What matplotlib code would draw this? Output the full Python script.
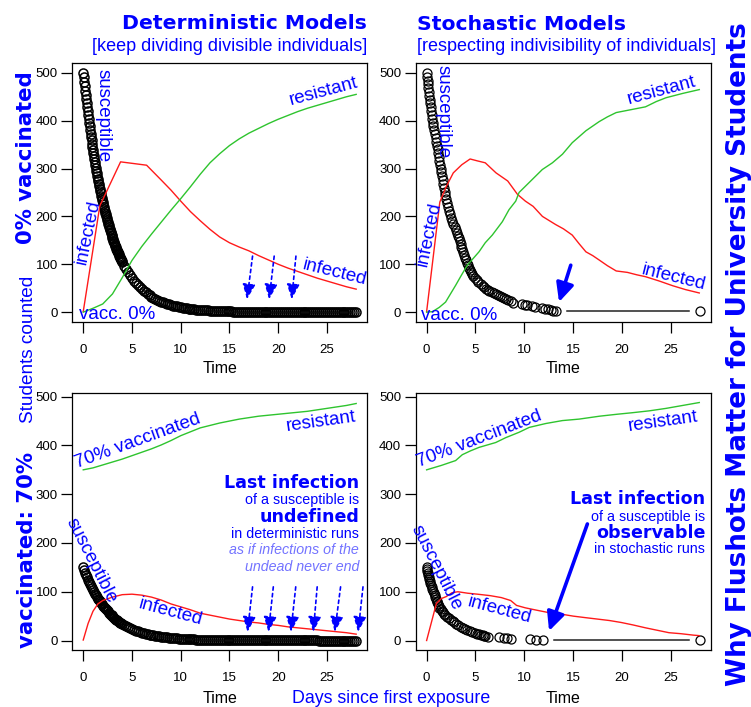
import numpy as np
import matplotlib.pyplot as plt

plt.rcParams['font.family'] = ['Liberation Sans', 'DejaVu Sans']

BLUE = '#0000ff'
LIGHT = '#7373ff'
RED = '#ff1a1a'
GREEN = '#2ec42e'

# ---------------- deterministic, 0% vaccinated ----------------
det_t0 = np.concatenate([np.arange(0, 4.001, 0.05), np.arange(4.2, 28.001, 0.2)])
det_S0 = [
    500.0, 490.3, 480.9, 471.6, 462.5, 453.6, 444.8, 436.2, 427.8, 419.6,
    411.5, 403.5, 395.7, 388.1, 380.6, 373.2, 366.0, 359.0, 352.1, 345.3,
    338.6, 332.0, 325.6, 319.3, 313.2, 307.1, 301.2, 295.4, 289.7, 284.1,
    278.6, 273.2, 268.0, 262.8, 257.7, 252.8, 247.9, 243.1, 238.4, 233.8,
    229.3, 224.9, 220.5, 216.3, 212.1, 208.0, 204.0, 200.0, 196.2, 192.4,
    188.7, 185.0, 181.4, 177.9, 174.5, 171.1, 167.8, 164.6, 161.4, 158.3,
    155.2, 152.2, 149.3, 146.4, 143.6, 140.8, 138.1, 135.4, 132.8, 130.2,
    127.7, 125.3, 122.8, 120.5, 118.1, 115.9, 113.6, 111.4, 109.3, 107.2,
    105.1,
    97.2, 89.9, 83.1, 76.9, 71.1,
    65.8, 60.9, 56.3, 52.1, 48.2,
    44.5, 41.2, 38.1, 35.3, 32.6,
    30.2, 27.9, 25.8, 23.9, 22.1,
    20.4, 18.9, 17.5, 16.2, 14.9,
    13.8, 12.8, 11.8, 10.9, 10.1,
    9.4, 8.7, 8.0, 7.4, 6.9,
    6.3, 5.9, 5.4, 5.0, 4.6,
    4.3, 4.0, 3.7, 3.4, 3.1,
    2.9, 2.7, 2.5, 2.3, 2.1,
    2.0, 1.8, 1.7, 1.6, 1.4,
    1.3, 1.2, 1.1, 1.0, 1.0,
    0.9, 0.8, 0.8, 0.7, 0.7,
    0.6, 0.6, 0.5, 0.5, 0.4,
    0.4, 0.4, 0.4, 0.3, 0.3,
    0.3, 0.3, 0.3, 0.2, 0.2,
    0.2, 0.2, 0.2, 0.2, 0.2,
    0.1, 0.1, 0.1, 0.1, 0.1,
    0.1, 0.1, 0.1, 0.1, 0.1,
    0.1, 0.1, 0.1, 0.1, 0.1,
    0.1, 0.0, 0.0, 0.0, 0.0,
    0.0, 0.0, 0.0, 0.0, 0.0,
    0.0, 0.0, 0.0, 0.0, 0.0,
    0.0, 0.0, 0.0, 0.0, 0.0,
]
det_I0_t = [0, 1.7, 3.83, 6.5, 8, 9, 10, 11, 12, 13, 14, 15, 16, 17, 18, 19, 20,
            21, 22, 23, 24, 25, 26, 27, 28]
det_I0 = [1, 222, 314, 307, 276, 255, 232, 210, 191, 173, 157, 145, 136, 128, 118,
          109, 100, 92, 85, 78, 71, 65, 59, 53, 48]
det_R0_t = list(range(29))
det_R0 = [0, 8, 17, 38, 72, 108, 137, 163, 188, 213, 237, 262, 288, 312, 331, 348,
          362, 374, 384, 394, 403, 411, 419, 426, 432, 438, 444, 450, 455]

# ---------------- deterministic, 70% vaccinated ----------------
det_t70 = np.concatenate([np.arange(0, 4.001, 0.1), np.arange(4.2, 28.001, 0.2)])
det_S70 = [
    150.0, 144.6, 139.3, 134.3, 129.4, 124.7, 120.2, 115.8, 111.6, 107.5,
    103.6, 99.9, 96.2, 92.7, 89.4, 86.1, 83.0, 80.0, 77.1, 74.3,
    71.6, 69.0, 66.5, 64.1, 61.7, 59.5, 57.3, 55.2, 53.2, 51.3,
    49.4, 47.6, 45.9, 44.2, 42.6, 41.1, 39.6, 38.1, 36.7, 35.4,
    34.1,
    31.7, 29.4, 27.3, 25.4, 23.6,
    21.9, 20.3, 18.9, 17.5, 16.3,
    15.1, 14.0, 13.0, 12.1, 11.2,
    10.4, 9.7, 9.0, 8.4, 7.8,
    7.2, 6.7, 6.2, 5.8, 5.4,
    5.0, 4.6, 4.3, 4.0, 3.7,
    3.4, 3.2, 3.0, 2.8, 2.6,
    2.4, 2.2, 2.0, 1.9, 1.8,
    1.6, 1.5, 1.4, 1.3, 1.2,
    1.1, 1.0, 1.0, 0.9, 0.8,
    0.8, 0.7, 0.7, 0.6, 0.6,
    0.5, 0.5, 0.5, 0.4, 0.4,
    0.4, 0.3, 0.3, 0.3, 0.3,
    0.3, 0.2, 0.2, 0.2, 0.2,
    0.2, 0.2, 0.2, 0.2, 0.1,
    0.1, 0.1, 0.1, 0.1, 0.1,
    0.1, 0.1, 0.1, 0.1, 0.1,
    0.1, 0.1, 0.1, 0.1, 0.1,
    0.1, 0.1, 0.1, 0.1, 0.1,
    0.1, 0.1, 0.1, 0.1, 0.1,
    0.0, 0.0, 0.0, 0.0, 0.0,
    0.0, 0.0, 0.0, 0.0, 0.0,
    0.0, 0.0, 0.0, 0.0, 0.0,
    0.0, 0.0, 0.0, 0.0, 0.0,
]
det_I70_t = [0, 0.5, 1, 1.5, 2] + list(range(3, 29))
det_I70 = [1, 35, 60, 75, 82, 89, 94, 95, 93, 89, 83, 75, 69, 63, 56, 52, 48, 44, 41,
           38, 36, 33, 31, 28, 26, 24, 22, 20, 18, 16, 13]
det_R70_t = list(range(29))
det_R70 = [350, 354, 360, 366, 372, 379, 386, 393, 401, 410, 420, 428, 436, 441, 446,
           450, 454, 457, 460, 462, 464, 466, 468, 470, 473, 476, 479, 482, 486]

# ---------------- stochastic, 0% vaccinated ----------------
sto_S0_t = [0.00, 0.05, 0.09, 0.14, 0.18, 0.23, 0.28, 0.32, 0.37, 0.41, 0.46, 0.51, 0.55,
            0.62, 0.70, 0.77, 0.85, 0.92, 1.00, 1.07,
            1.13, 1.19, 1.25, 1.30, 1.36, 1.42,
            1.48, 1.56, 1.63, 1.70, 1.77, 1.84, 1.91,
            2.00, 2.10, 2.20, 2.30, 2.40,
            2.52, 2.64, 2.75, 2.87, 2.99, 3.10,
            3.20, 3.29, 3.38, 3.47, 3.56, 3.64,
            3.72, 3.83, 3.94, 4.05, 4.14,
            4.25, 4.35, 4.46, 4.57, 4.65,
            4.79, 4.95, 5.11, 5.27,
            5.55, 5.73, 5.92, 6.10, 6.28, 6.40,
            6.70, 6.85, 7.05, 7.30,
            7.50, 7.70, 7.90, 8.10, 8.35, 8.60,
            8.85, 9.75, 10.05, 10.25, 10.8, 11.1, 11.85, 12.1, 12.4, 12.7, 12.95, 13.2,
            28.0]
sto_S0 = [500, 492, 484, 476, 468, 460, 452, 444, 436, 428, 420, 412, 404,
          396, 388, 380, 372, 364, 356, 348,
          340, 332, 324, 316, 308, 300,
          292, 284, 276, 268, 260, 252, 244,
          236, 228, 220, 212, 204,
          196, 190, 184, 178, 172, 166,
          160, 154, 148, 142, 136, 131,
          126, 120, 114, 108, 103,
          98, 93, 88, 83, 79,
          75, 71, 67, 63,
          58, 55, 52, 49, 46, 44,
          41, 39, 37, 35,
          33, 31, 29, 27, 25, 23,
          20, 17, 15, 14, 12, 10, 8, 7, 6, 4, 3, 2,
          2]
sto_I0_t = [0, 1.35, 2.0, 2.73, 3.6, 4.45, 5.2, 6.0, 7.1, 8.3, 9.3, 10.1, 10.9, 11.85,
            13.2, 14.0, 14.9, 15.6, 16.3, 17.0, 17.65, 18.5, 19.4, 20.55, 21.5, 22.4,
            23.8, 25.2, 26.5, 27.9]
sto_I0 = [1, 230, 262, 291, 308, 320, 316, 312, 291, 274, 246, 232, 221, 200, 183, 174,
          161, 143, 126, 118, 109, 97, 86, 83, 78, 74, 65, 55, 47, 40]
sto_R0_t = [0, 0.6, 1.3, 1.94, 2.97, 3.5, 4.16, 5.36, 6.0, 6.72, 7.75, 8.43, 9.12, 9.46,
            10.8, 11.84, 12.87, 13.9, 14.9, 16.3, 17.65, 18.5, 19.4, 20.9, 22.4, 23.5,
            24.5, 26.2, 27.9]
sto_R0 = [0, 1, 10, 21, 56, 75, 98, 126, 145, 161, 189, 214, 232, 250, 277, 298, 312,
          330, 354, 379, 398, 408, 417, 423, 429, 440, 448, 457, 465]

# ---------------- stochastic, 70% vaccinated ----------------
sto_S70_t = [0.00, 0.04, 0.08, 0.13, 0.17, 0.21, 0.26, 0.32, 0.39, 0.46, 0.53, 0.60,
             0.67, 0.74, 0.81, 0.88, 0.95, 1.02, 1.09, 1.16, 1.24, 1.30, 1.42, 1.55,
             1.68, 1.80, 1.92, 2.05, 2.26, 2.45, 2.65, 2.80, 3.05, 3.25, 3.50, 3.72,
             3.90, 4.15, 4.40, 4.65, 4.95, 5.20, 5.35, 5.55, 5.75, 5.85, 6.00, 6.25,
             7.40, 7.90, 8.25, 8.60, 10.55, 11.20, 11.95, 28.0]
sto_S70 = [150, 146, 142, 138, 134, 130, 126, 122, 118, 114, 110, 106, 102, 98, 94, 90,
           86, 82, 78, 74, 70, 67, 64, 61, 58, 55, 52, 49, 46, 43, 40, 37, 34, 31, 28,
           26, 24, 22, 20, 18, 16, 14, 13, 12, 11, 10, 9, 8, 7, 6, 5, 4, 3, 2, 1, 1]
sto_I70_t = [0, 0.5, 1.0, 1.5, 2.0, 2.6, 3.2, 4.2, 5.2, 6.5, 7.65, 8.6, 9.2, 10.1, 11.3,
             12.55, 13.8, 15.0, 16.2, 17.45, 18.7, 19.9, 21.1, 22.4, 23.6, 24.8, 26.0,
             27.3, 27.9]
sto_I70 = [0, 38, 76, 86, 90, 98, 100, 97, 95, 92, 88, 82, 72, 67, 62, 57, 54, 50, 47,
           44, 41, 37, 32, 26, 21, 16, 14, 11, 10]
sto_R70_t = [0, 1.5, 2.97, 3.65, 4.5, 5.36, 7.07, 8.1, 9.46, 10.5, 12.2, 13.9, 15.6,
             17.7, 19.5, 21.0, 22.8, 24.5, 26.2, 27.9]
sto_R70 = [350, 359, 369, 381, 389, 396, 406, 416, 427, 437, 445, 451, 454, 460, 464,
           467, 471, 476, 482, 488]

x_ticks = [0, 5, 10, 15, 20, 25]
y_ticks = [0, 100, 200, 300, 400, 500]

fig = plt.figure(figsize=(7.51, 7.07), dpi=100)
ax_tl = fig.add_axes([0.0963, 0.5450, 0.3925, 0.3655])
ax_tr = fig.add_axes([0.5535, 0.5450, 0.3935, 0.3655])
ax_bl = fig.add_axes([0.0963, 0.0806, 0.3925, 0.3635])
ax_br = fig.add_axes([0.5535, 0.0806, 0.3935, 0.3635])


def setup(ax, ylim, time_y):
    ax.set_xlim(-1.12, 29.12)
    ax.set_ylim(*ylim)
    ax.set_autoscale_on(False)
    ax.set_xticks(x_ticks)
    ax.set_yticks(y_ticks)
    ax.tick_params(axis='x', direction='out', length=8, width=0.9, labelsize=9.5, pad=8)
    ax.tick_params(axis='y', direction='out', length=8, width=0.9, labelsize=9.5, pad=2.5)
    for s in ax.spines.values():
        s.set_linewidth(0.9)
    ax.text(0.5, time_y, 'Time', transform=ax.transAxes, ha='center', va='baseline',
            fontsize=11.5)


def gap_lines(ax, x, y, gap=11):
    # R type="b": segments between points, kept clear of the circles
    pts = ax.transData.transform(np.column_stack([x, y]))
    inv = ax.transData.inverted()
    for p1, p2 in zip(pts[:-1], pts[1:]):
        d = np.hypot(*(p2 - p1))
        if d > 2 * gap:
            u = (p2 - p1) / d
            a, b = inv.transform([p1 + u * gap, p2 - u * gap])
            ax.plot([a[0], b[0]], [a[1], b[1]], color='#222222', lw=1.1)


def draw(ax, st, sv, it, iv, rt, rv, mew=0.9):
    ax.plot(st, sv, 'o', ms=6.5, mfc='none', mec='black', mew=mew, zorder=2)
    gap_lines(ax, st, sv)
    ax.plot(it, iv, color=RED, lw=1.0, zorder=3)
    ax.plot(rt, rv, color=GREEN, lw=1.0, zorder=3)


def label(ax, x, y, s, rot=0, size=13.5, **kw):
    ax.text(x, y, s, rotation=rot, color=BLUE, fontsize=size, ha=kw.pop('ha', 'center'),
            va=kw.pop('va', 'center'), **kw)


setup(ax_tl, (-20, 520), -0.1997)
setup(ax_tr, (-20, 520), -0.1997)
setup(ax_bl, (-19.5, 507.5), -0.2074)
setup(ax_br, (-19.5, 507.5), -0.2074)

draw(ax_tl, det_t0, det_S0, det_I0_t, det_I0, det_R0_t, det_R0, mew=1.1)
draw(ax_tr, sto_S0_t, sto_S0, sto_I0_t, sto_I0, sto_R0_t, sto_R0)
draw(ax_bl, det_t70, det_S70, det_I70_t, det_I70, det_R70_t, det_R70, mew=1.1)
draw(ax_br, sto_S70_t, sto_S70, sto_I70_t, sto_I70, sto_R70_t, sto_R70)

# ---- curve labels, top row ----
label(ax_tl, 2.03, 410, 'susceptible', rot=-90)
label(ax_tr, 1.68, 419, 'susceptible', rot=-90)
label(ax_tl, 0.49, 167, 'infected', rot=78)
label(ax_tr, 0.24, 164, 'infected', rot=78)
label(ax_tl, 24.7, 462, 'resistant', rot=15)
label(ax_tr, 24.06, 463, 'resistant', rot=15)
label(ax_tl, 25.77, 82, 'infected', rot=-14)
label(ax_tr, 25.26, 72, 'infected', rot=-14)
label(ax_tl, -0.45, -15, 'vacc. 0%', ha='left', va='baseline')
label(ax_tr, -0.61, -17.5, 'vacc. 0%', ha='left', va='baseline')

# ---- curve labels, bottom row ----
label(ax_bl, 0.8, 164, 'susceptible', rot=-63)
label(ax_br, 0.95, 150, 'susceptible', rot=-63)
label(ax_bl, 5.63, 409, '70% vaccinated', rot=20)
label(ax_br, 5.38, 414, '70% vaccinated', rot=21)
label(ax_bl, 24.4, 449, 'resistant', rot=8)
label(ax_br, 24.16, 449, 'resistant', rot=8)
label(ax_bl, 8.97, 59, 'infected', rot=-15)
label(ax_br, 7.45, 63, 'infected', rot=-15)

# ---- explanatory blocks ----
bold = dict(family='DejaVu Sans', fontweight='bold', fontsize=12.6)
ax_bl.text(28.3, 324, 'Last infection', color=BLUE, ha='right', va='center', **bold)
ax_bl.text(28.3, 288, 'of a susceptible is', color=BLUE, ha='right', va='center', fontsize=10.3)
ax_bl.text(28.3, 254, 'undefined', color=BLUE, ha='right', va='center', **bold)
ax_bl.text(28.3, 219, 'in deterministic runs', color=BLUE, ha='right', va='center', fontsize=10.3)
ax_bl.text(28.3, 185, 'as if infections of the', color=LIGHT, ha='right', va='center',
           fontsize=10.3, style='italic')
ax_bl.text(28.3, 151, 'undead never end', color=LIGHT, ha='right', va='center',
           fontsize=10.3, style='italic')

ax_br.text(28.5, 290, 'Last infection', color=BLUE, ha='right', va='center', **bold)
ax_br.text(28.5, 254, 'of a susceptible is', color=BLUE, ha='right', va='center', fontsize=10.3)
ax_br.text(28.5, 221, 'observable', color=BLUE, ha='right', va='center', **bold)
ax_br.text(28.5, 187, 'in stochastic runs', color=BLUE, ha='right', va='center', fontsize=10.3)

# ---- arrows ----
dotted = dict(arrowstyle='-|>,head_length=0.7,head_width=0.3', color=BLUE, lw=1.2,
              linestyle=(0, (2, 2)), shrinkA=0, shrinkB=0, mutation_scale=13)
solid = dict(arrowstyle='-|>,head_length=0.8,head_width=0.38', color=BLUE, lw=2.6,
             shrinkA=0, shrinkB=0, mutation_scale=14)

tl_arrow_top = [17.37, 19.59, 21.82]
tl_arrow_tip = [16.8, 19.07, 21.38]
for xt, xb in zip(tl_arrow_top, tl_arrow_tip):
    ax_tl.annotate('', xy=(xb, 27), xytext=(xt, 117), arrowprops=dotted)

bl_arrow_top = [17.37, 19.5, 21.8, 24.0, 26.4, 28.7]
bl_arrow_tip = [16.85, 19.0, 21.3, 23.6, 25.8, 28.2]
for xt, xb in zip(bl_arrow_top, bl_arrow_tip):
    ax_bl.annotate('', xy=(xb, 18), xytext=(xt, 110), arrowprops=dotted)

ax_tr.annotate('', xy=(13.55, 21), xytext=(14.75, 98), arrowprops=solid)
ax_br.annotate('', xy=(12.53, 19.5), xytext=(16.45, 239), arrowprops=solid)

# ---- titles and margin labels ----
hb = dict(family='DejaVu Sans', fontweight='bold', color=BLUE)
fig.text(0.4887, 0.9586, 'Deterministic Models', ha='right', va='baseline', fontsize=14.7, **hb)
fig.text(0.4887, 0.9274, '[keep dividing divisible individuals]', ha='right', va='baseline',
         fontsize=13, color=BLUE)
fig.text(0.5549, 0.9576, 'Stochastic Models', ha='left', va='baseline', fontsize=14.7, **hb)
fig.text(0.5549, 0.9274, '[respecting indivisibility of individuals]', ha='left',
         va='baseline', fontsize=13, color=BLUE)

fig.text(0.0422, 0.7772, '0% vaccinated', rotation=90, rotation_mode='anchor',
         ha='center', va='baseline', fontsize=15.3, **hb)
fig.text(0.0439, 0.5064, 'Students counted', rotation=90, rotation_mode='anchor',
         ha='center', va='baseline', fontsize=13.7, color=BLUE)
fig.text(0.0433, 0.2221, 'vaccinated: 70%', rotation=90, rotation_mode='anchor',
         ha='center', va='baseline', fontsize=15.3, **hb)
fig.text(0.993, 0.4993, 'Why Flushots Matter for University Students', rotation=90,
         rotation_mode='anchor', ha='center', va='baseline', fontsize=18.9, **hb)
fig.text(0.5206, 0.0052, 'Days since first exposure', ha='center', va='baseline',
         fontsize=12.8, color=BLUE)

fig.savefig('out.png', dpi=100)
